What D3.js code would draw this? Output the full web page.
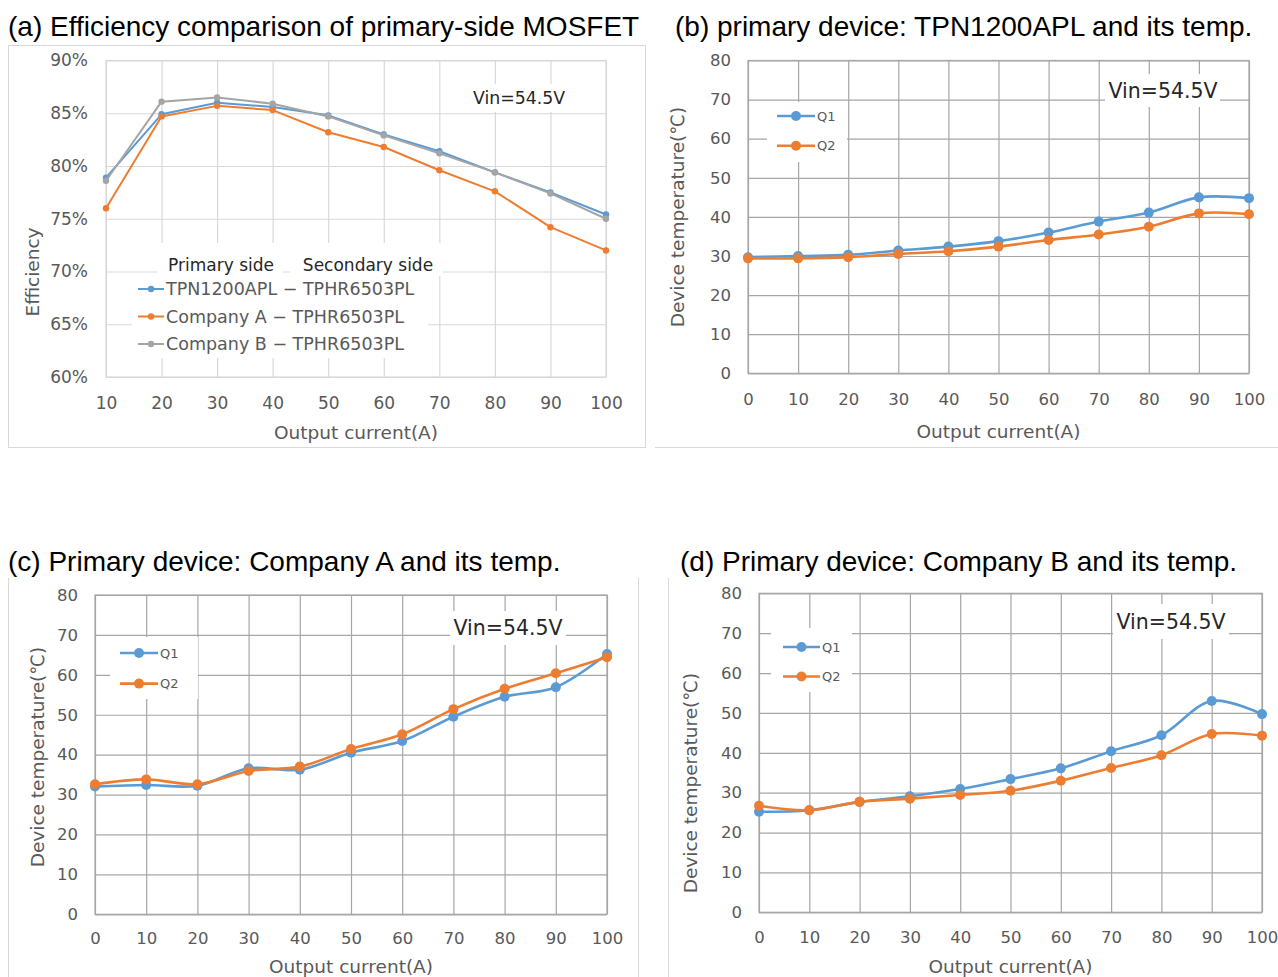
<!DOCTYPE html>
<html><head><meta charset="utf-8">
<script src="https://cdn.jsdelivr.net/npm/d3@7"></script>
<style>body{margin:0;background:#fff}svg{display:block}</style>
</head><body>
<svg id="chart" width="1278" height="977"></svg>
<script>
// ---------- DATA ----------
const effCurrents = [10, 20, 30, 40, 50, 60, 70, 80, 90, 100];
const effTPN1200APL = [78.9, 84.9, 86.0, 85.6, 84.8, 83.0, 81.4, 79.4, 77.5, 75.4];
const effCompanyA   = [76.0, 84.7, 85.7, 85.3, 83.2, 81.8, 79.6, 77.6, 74.2, 72.0];
const effCompanyB   = [78.6, 86.1, 86.5, 85.9, 84.7, 82.9, 81.2, 79.4, 77.4, 75.0];
const effTicks = [60, 65, 70, 75, 80, 85, 90];
const effSeriesNames = ["TPN1200APL − TPHR6503PL", "Company A − TPHR6503PL", "Company B − TPHR6503PL"];

const tempCurrents = [0, 10, 20, 30, 40, 50, 60, 70, 80, 90, 100];
const tempTicks = [0, 10, 20, 30, 40, 50, 60, 70, 80];
const tempSeriesNames = ["Q1", "Q2"];
const tpnQ1 = [29.7, 30.0, 30.3, 31.4, 32.4, 33.8, 36.0, 38.8, 41.1, 45.0, 44.8];
const tpnQ2 = [29.4, 29.4, 29.7, 30.5, 31.2, 32.4, 34.1, 35.5, 37.5, 40.9, 40.7];
const compAQ1 = [32.0, 32.4, 32.2, 36.6, 36.2, 40.5, 43.4, 49.5, 54.5, 56.9, 65.2];
const compAQ2 = [32.6, 33.8, 32.6, 35.9, 37.0, 41.4, 45.1, 51.4, 56.5, 60.4, 64.4];
const compBQ1 = [25.2, 25.6, 27.7, 29.1, 30.9, 33.4, 36.1, 40.4, 44.4, 53.0, 49.7];
const compBQ2 = [26.7, 25.6, 27.7, 28.5, 29.4, 30.5, 33.0, 36.2, 39.4, 44.7, 44.3];

const titles = [
  "(a)  Efficiency comparison of primary-side MOSFET",
  "(b) primary device: TPN1200APL and its temp.",
  "(c) Primary device: Company A and its temp.",
  "(d) Primary device: Company B and its temp."
];
const vinLabel = "Vin=54.5V";
const xTitle = "Output current(A)";
const effTitle = "Efficiency";
const tempTitle = "Device temperature(℃)";

// ---------- STYLE ----------
const BLUE = "#5B9BD5", ORANGE = "#ED7D31", GRAY = "#A5A5A5";
const FONT = "'DejaVu Sans', 'Noto Sans', sans-serif";
const TFONT = "'Liberation Sans', Arial, sans-serif";
const svg = d3.select("#chart");

// frames
const frames = svg.append("g").attr("fill", "none").attr("stroke", "#d9d9d9");
frames.append("rect").attr("x", 8.5).attr("y", 45.5).attr("width", 637).attr("height", 402);
frames.append("line").attr("x1", 655).attr("x2", 1278).attr("y1", 447.5).attr("y2", 447.5);
frames.append("line").attr("x1", 8.5).attr("x2", 8.5).attr("y1", 578).attr("y2", 977);
frames.append("line").attr("x1", 638.5).attr("x2", 638.5).attr("y1", 578).attr("y2", 977);
frames.append("line").attr("x1", 668.5).attr("x2", 668.5).attr("y1", 578).attr("y2", 977);

// titles
const titlePos = [[8, 36], [675, 36], [8, 571], [680, 571]];
titles.forEach((t, i) => svg.append("text").attr("x", titlePos[i][0]).attr("y", titlePos[i][1])
  .attr("font-family", TFONT).attr("font-size", 28).attr("fill", "#000").text(t));

function panel(o) {
  const g = svg.append("g");
  const x = d3.scaleLinear().domain(o.xDomain).range([o.left, o.right]);
  const y = d3.scaleLinear().domain(o.yDomain).range([o.bottom, o.top]);
  const w = o.right - o.left, h = o.bottom - o.top;

  const ax = g.append("g").attr("transform", `translate(0,${o.bottom})`)
    .call(d3.axisBottom(x).tickValues(o.xTicks).tickSize(-h).tickPadding(o.xPad).tickFormat(d3.format("d")));
  const ay = g.append("g").attr("transform", `translate(${o.left},0)`)
    .call(d3.axisLeft(y).tickValues(o.yTicks).tickSize(-w).tickPadding(o.yPad).tickFormat(o.yFmt));
  [ax, ay].forEach(a => {
    a.select(".domain").remove();
    a.selectAll("line").attr("stroke", o.grid).attr("stroke-width", 1.2);
    a.selectAll("text").attr("font-family", FONT).attr("font-size", o.tickSize).attr("fill", "#595959");
  });
  g.append("rect").attr("x", o.left).attr("y", o.top).attr("width", w).attr("height", h)
    .attr("fill", "none").attr("stroke", o.grid).attr("stroke-width", 1.2);

  // axis titles
  g.append("text").attr("x", (o.left + o.right) / 2).attr("y", o.xTitleY).attr("text-anchor", "middle")
    .attr("dominant-baseline", "central").attr("font-family", FONT).attr("font-size", o.titleSize)
    .attr("fill", "#595959").text(xTitle);
  g.append("text").attr("transform", `translate(${o.yTitleX},${o.yTitleY}) rotate(-90)`).attr("text-anchor", "middle")
    .attr("dominant-baseline", "central").attr("font-family", FONT).attr("font-size", o.titleSize)
    .attr("fill", "#595959").text(o.yTitle);

  // white boxes (legend / labels)
  o.boxes.forEach(b => g.append("rect").attr("x", b[0]).attr("y", b[1]).attr("width", b[2] - b[0])
    .attr("height", b[3] - b[1]).attr("fill", "#fff"));
  g.append("text").attr("x", o.vin[0]).attr("y", o.vin[1]).attr("text-anchor", "middle")
    .attr("dominant-baseline", "central").attr("font-family", FONT).attr("font-size", o.vin[2])
    .attr("fill", "#262626").text(vinLabel);

  const line = d3.line().x((d, i) => x(o.xs[i])).y(d => y(d)).curve(o.curve);
  o.series.forEach(s => {
    g.append("path").datum(s.values).attr("d", line).attr("fill", "none")
      .attr("stroke", s.color).attr("stroke-width", o.lw).attr("stroke-linejoin", "round");
    g.selectAll(null).data(s.values).join("circle").attr("cx", (d, i) => x(o.xs[i])).attr("cy", d => y(d))
      .attr("r", o.mr).attr("fill", s.color);
  });

  // legend
  o.series.forEach((s, i) => {
    const ly = o.legend.y0 + i * o.legend.dy;
    g.append("line").attr("x1", o.legend.x0).attr("x2", o.legend.x1).attr("y1", ly).attr("y2", ly)
      .attr("stroke", s.color).attr("stroke-width", o.lw);
    g.append("circle").attr("cx", (o.legend.x0 + o.legend.x1) / 2).attr("cy", ly).attr("r", o.mr).attr("fill", s.color);
    g.append("text").attr("x", o.legend.x1 + 2).attr("y", ly).attr("dominant-baseline", "central")
      .attr("font-family", FONT).attr("font-size", o.legend.size).attr("fill", "#595959").text(s.name);
  });
  return g;
}

// (a)
const ga = panel({
  xs: effCurrents, xDomain: [10, 100], yDomain: [60, 90], xTicks: effCurrents, yTicks: effTicks,
  yFmt: d => d + "%", left: 106, right: 606, top: 60.5, bottom: 377,
  xPad: 20, yPad: 18, tickSize: 17, titleSize: 18.5, grid: "#d9d9d9",
  xTitleY: 432, yTitleX: 32, yTitleY: 272, yTitle: effTitle,
  boxes: [[157, 243, 283, 276], [290, 243, 443, 276], [132, 276, 428, 358], [463, 84, 577, 112]],
  vin: [519, 98, 17.3], curve: d3.curveLinear, lw: 2, mr: 3.2,
  series: [
    {name: effSeriesNames[0], values: effTPN1200APL, color: BLUE},
    {name: effSeriesNames[1], values: effCompanyA, color: ORANGE},
    {name: effSeriesNames[2], values: effCompanyB, color: GRAY}
  ],
  legend: {x0: 138, x1: 164, y0: 289, dy: 27.5, size: 17.5}
});
ga.append("text").attr("x", 221).attr("y", 265).attr("text-anchor", "middle").attr("dominant-baseline", "central")
  .attr("font-family", FONT).attr("font-size", 17).attr("fill", "#262626").text("Primary side");
ga.append("text").attr("x", 368).attr("y", 265).attr("text-anchor", "middle").attr("dominant-baseline", "central")
  .attr("font-family", FONT).attr("font-size", 17).attr("fill", "#262626").text("Secondary side");

const tempCommon = {
  xs: tempCurrents, xDomain: [0, 100], yDomain: [0, 80], xTicks: tempCurrents, yTicks: tempTicks,
  yFmt: d3.format("d"), yPad: 17, tickSize: 16.5, titleSize: 18.5, grid: "#a6a6a6",
  yTitle: tempTitle, curve: d3.curveCatmullRom.alpha(0.5), lw: 2.6, mr: 5
};

// (b)
panel(Object.assign({}, tempCommon, {
  left: 748, right: 1249, top: 60.5, bottom: 373.3, xPad: 20,
  xTitleY: 431, yTitleX: 677, yTitleY: 217,
  boxes: [[767, 102, 847, 162], [1105, 74, 1220, 107]],
  vin: [1163, 91, 20.5],
  series: [{name: tempSeriesNames[0], values: tpnQ1, color: BLUE}, {name: tempSeriesNames[1], values: tpnQ2, color: ORANGE}],
  legend: {x0: 777, x1: 815, y0: 116, dy: 29.7, size: 13}
}));

// (c)
panel(Object.assign({}, tempCommon, {
  left: 95, right: 607, top: 595, bottom: 914.3, xPad: 18,
  xTitleY: 966, yTitleX: 37, yTitleY: 757,
  boxes: [[110, 637, 198, 699], [450, 611, 566, 645]],
  vin: [508, 628, 20.5],
  series: [{name: tempSeriesNames[0], values: compAQ1, color: BLUE}, {name: tempSeriesNames[1], values: compAQ2, color: ORANGE}],
  legend: {x0: 120, x1: 158, y0: 653, dy: 30.6, size: 13}
}));

// (d)
panel(Object.assign({}, tempCommon, {
  left: 759, right: 1262, top: 593.3, bottom: 912.3, xPad: 19,
  xTitleY: 966, yTitleX: 690, yTitleY: 783,
  boxes: [[771, 628, 852, 692], [1113, 604, 1229, 639]],
  vin: [1171, 622, 20.5],
  series: [{name: tempSeriesNames[0], values: compBQ1, color: BLUE}, {name: tempSeriesNames[1], values: compBQ2, color: ORANGE}],
  legend: {x0: 783, x1: 820, y0: 647, dy: 29.5, size: 13}
}));
</script>
</body></html>
